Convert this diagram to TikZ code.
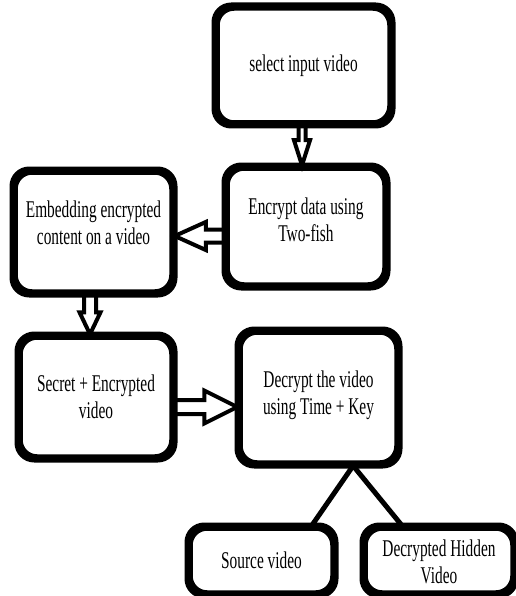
\documentclass[tikz,border=0pt]{standalone}
\usepackage{fontspec}
\setmainfont[FakeStretch=0.64]{Liberation Serif}
\usetikzlibrary{calc}
\tikzset{
  box/.style={draw=black, fill=white, line width=5.5pt, rounded corners=17pt,
    inner sep=0pt, align=center, font=\fontsize{24}{27}\selectfont},
  harrow/.style={draw=black, fill=white, line width=4pt, line join=miter},
  link/.style={draw=black, line width=5pt},
}
% text block shifted vertically without changing the box it reports
\newcommand\lift[2]{\raisebox{#1}[\height][\depth]{\begin{tabular}{@{}c@{}}#2\end{tabular}}}
% vertical hollow arrow pointing down: from, to, shaft half width, head half width, head length
\newcommand\blkdown[5]{%
  \path[harrow] let \p1=(#1), \p2=(#1 |- #2) in
    (\x1-#3pt,\y1) -- (\x1-#3pt,\y2+#5pt) -- (\x1-#4pt,\y2+#5pt) -- (\x1,\y2)
    -- (\x1+#4pt,\y2+#5pt) -- (\x1+#3pt,\y2+#5pt) -- (\x1+#3pt,\y1);}
% horizontal hollow arrow: from, to, shaft half width, head half width, head length (signed toward tip)
\newcommand\blkhoriz[5]{%
  \path[harrow] let \p1=(#1), \p2=(#1 -| #2) in
    (\x1,\y1+#3pt) -- (\x2-#5pt,\y1+#3pt) -- (\x2-#5pt,\y1+#4pt) -- (\x2,\y1)
    -- (\x2-#5pt,\y1-#4pt) -- (\x2-#5pt,\y1-#3pt) -- (\x1,\y1-#3pt);}
\begin{document}
\begin{tikzpicture}[x=1pt,y=-1pt]
\useasboundingbox (0,0) rectangle (515,596);
\fill[white] (0,0) rectangle (515,596);

% nodes
\node[box, minimum width=173pt, minimum height=115pt] (b1) at (303.5,65.5) {select input video};
\node[box, minimum width=158pt, minimum height=117pt] (b2) at (306,226.5) {\lift{4pt}{Encrypt data using\\Two-fish}};
\node[box, minimum width=157pt, minimum height=120pt] (b3) at (93.5,232) {\lift{6pt}{Embedding encrypted\\content on a video}};
\node[box, minimum width=152pt, minimum height=120pt] (b4) at (96,397) {Secret + Encrypted\\video};
\node[box, minimum width=157pt, minimum height=131pt] (b5) at (318.5,397.5) {\lift{2pt}{Decrypt the video\\using Time + Key}};
\node[box, minimum width=143pt, minimum height=65pt] (b6) at (261.5,560.5) {Source video};
\node[box, minimum width=148pt, minimum height=65pt] (b7) at (439,560.5) {\lift{-4pt}{Decrypted Hidden\\Video}};

% links from b5 to b6 and b7
\coordinate (apex) at ($(b5.south west)!0.713!(b5.south east)$);
\coordinate (e6) at ($(b6.north west)!0.84!(b6.north east)$);
\coordinate (e7) at ($(b7.north west)!0.257!(b7.north east)$);
\draw[link] (apex) -- (e6);
\draw[link] (apex) -- (e7);

% hollow arrows
\coordinate (a1s) at ($(b1.south)+(-1.5,0)$);
\blkdown{a1s}{b2.north}{3.5}{8}{25}
\coordinate (a3s) at ($(b3.south)+(-3.5,0)$);
\blkdown{a3s}{b4.north}{6}{10.5}{22}
\coordinate (a2s) at ($(b2.west)+(0,9.5)$);
\blkhoriz{a2s}{b3.east}{6.5}{14}{-31}
\coordinate (a4s) at ($(b4.east)+(0,10)$);
\blkhoriz{a4s}{b5.west}{7}{16.5}{33}

% redraw box outlines over arrow ends
\foreach \n in {b1,b2,b3,b4,b5,b6,b7}{
  \draw[line width=5.5pt, rounded corners=17pt] (\n.north west) rectangle (\n.south east);
}
\end{tikzpicture}
\end{document}
